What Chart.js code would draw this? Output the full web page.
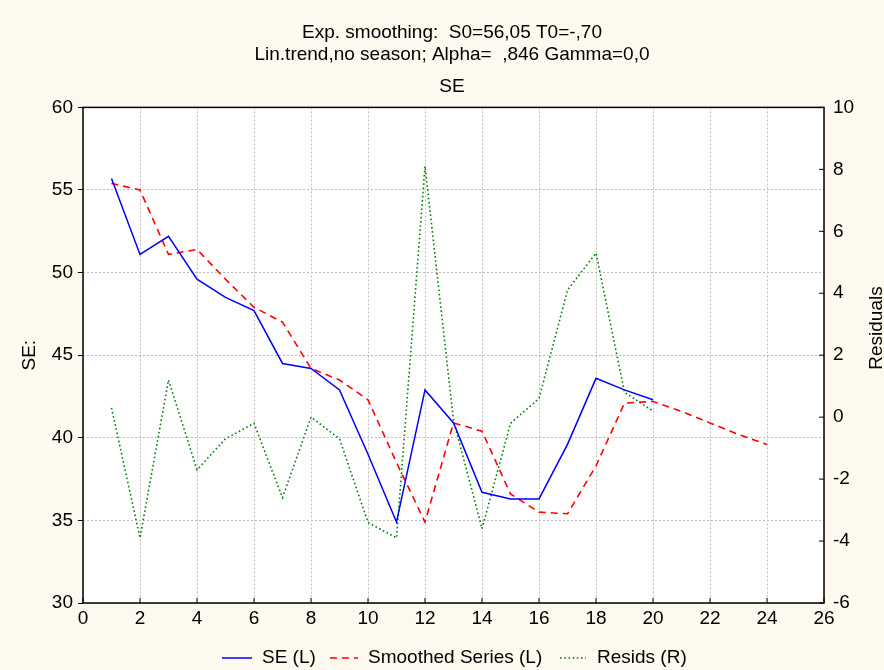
<!DOCTYPE html>
<html>
<head>
<meta charset="utf-8">
<script src="https://cdn.jsdelivr.net/npm/chart.js@4/dist/chart.umd.min.js"></script>
<style>
  html, body { margin: 0; padding: 0; background: #fdf9ef; }
  canvas { display: block; }
</style>
</head>
<body>
<canvas id="chart" width="884" height="670"></canvas>
<script>
const FONT = "'Liberation Sans', Arial, sans-serif";

const titleLines = [
  "Exp. smoothing:  S0=56,05 T0=-,70",
  "Lin.trend,no season; Alpha=  ,846 Gamma=0,0",
];
const subTitle = "SE";
const leftAxisTitle = "SE:";
const rightAxisTitle = "Residuals";

const steps = [1, 2, 3, 4, 5, 6, 7, 8, 9, 10, 11, 12, 13, 14, 15, 16, 17, 18, 19, 20, 21, 22, 23, 24];
const seValues = [55.7, 51.1, 52.2, 49.6, 48.5, 47.7, 44.5, 44.2, 42.9, 39.0, 34.9, 42.9, 40.9, 36.7, 36.3, 36.3, 39.6, 43.6, 42.9, 42.3];
const smoothedValues = [55.4, 55.0, 51.1, 51.4, 49.6, 47.9, 47.0, 44.2, 43.5, 42.3, 38.5, 34.9, 40.9, 40.4, 36.6, 35.5, 35.4, 38.3, 42.1, 42.2, 41.6, 40.9, 40.2, 39.6];
const residValues = [0.3, -3.9, 1.2, -1.7, -0.7, -0.2, -2.6, 0.0, -0.7, -3.4, -3.9, 8.1, -0.1, -3.6, -0.2, 0.6, 4.1, 5.3, 0.8, 0.2];

const legendLabels = ["SE (L)", "Smoothed Series (L)", "Resids (R)"];

function toPoints(values) {
  return values.map((v, i) => ({ x: steps[i], y: v }));
}

// фон, рамка, внутренние риски, правый заголовок и легенда
const decor = {
  id: "decor",
  beforeDraw(chart) {
    const { ctx, chartArea: a } = chart;
    ctx.save();
    ctx.fillStyle = "#fdf9ef";
    ctx.fillRect(0, 0, chart.width, chart.height);
    ctx.fillStyle = "#ffffff";
    ctx.fillRect(a.left, a.top, a.right - a.left, a.bottom - a.top);
    ctx.restore();
  },
  afterDraw(chart) {
    const { ctx, chartArea: a, scales } = chart;
    ctx.save();
    ctx.strokeStyle = "#000";
    ctx.lineWidth = 1.5;
    ctx.strokeRect(a.left, a.top, a.right - a.left, a.bottom - a.top);

    ctx.lineWidth = 1;
    ctx.beginPath();
    scales.x.ticks.forEach((t) => {
      const px = scales.x.getPixelForValue(t.value);
      ctx.moveTo(px, a.bottom);
      ctx.lineTo(px, a.bottom - 5);
    });
    scales.y1.ticks.forEach((t) => {
      const py = scales.y1.getPixelForValue(t.value);
      ctx.moveTo(a.right, py);
      ctx.lineTo(a.right - 5, py);
    });
    ctx.stroke();

    // Residuals: снизу вверх, как слева
    ctx.fillStyle = "#000";
    ctx.font = "19px " + FONT;
    ctx.textAlign = "center";
    ctx.textBaseline = "middle";
    ctx.translate(877, 328);
    ctx.rotate(-Math.PI / 2);
    ctx.fillText(rightAxisTitle, 0, 0);
    ctx.setTransform(1, 0, 0, 1, 0, 0);

    // Legend
    const y = 658;
    const samples = [
      { x0: 222, x1: 252, tx: 262 },
      { x0: 330, x1: 358, tx: 368 },
      { x0: 560, x1: 586, tx: 597 },
    ];
    chart.data.datasets.forEach((ds, i) => {
      const s = samples[i];
      ctx.strokeStyle = ds.borderColor;
      ctx.lineWidth = ds.borderWidth;
      ctx.setLineDash(ds.borderDash || []);
      ctx.beginPath();
      ctx.moveTo(s.x0, y);
      ctx.lineTo(s.x1, y);
      ctx.stroke();
      ctx.setLineDash([]);
      ctx.textAlign = "left";
      ctx.fillText(legendLabels[i], s.tx, y);
    });
    ctx.restore();
  },
};

const gridStyle = {
  color: "#bdbdbd",
  lineWidth: 1,
};

new Chart(document.getElementById("chart"), {
  type: "line",
  data: {
    datasets: [
      {
        label: legendLabels[0],
        data: toPoints(seValues),
        borderColor: "#0000ff",
        borderWidth: 1.5,
        yAxisID: "y",
      },
      {
        label: legendLabels[1],
        data: toPoints(smoothedValues),
        borderColor: "#ff0000",
        borderWidth: 1.6,
        borderDash: [7, 5],
        yAxisID: "y",
      },
      {
        label: legendLabels[2],
        data: toPoints(residValues),
        borderColor: "#008000",
        borderWidth: 1.6,
        borderDash: [1.6, 2.6],
        yAxisID: "y1",
      },
    ],
  },
  options: {
    responsive: false,
    devicePixelRatio: 1,
    animation: false,
    layout: { padding: { left: 20, right: 0, top: 0, bottom: 0 } },
    elements: {
      point: { radius: 0 },
      line: { tension: 0, fill: false },
    },
    plugins: {
      legend: { display: false },
      tooltip: { enabled: false },
      title: {
        display: true,
        text: titleLines,
        color: "#000",
        font: { family: FONT, size: 19, weight: "normal", lineHeight: 1.2 },
        padding: { top: 21, bottom: 0 },
      },
      subtitle: {
        display: true,
        text: subTitle,
        color: "#000",
        font: { family: FONT, size: 19, weight: "normal", lineHeight: 1.2 },
        padding: { top: 9, bottom: 9 },
      },
    },
    scales: {
      x: {
        type: "linear",
        min: 0,
        max: 26,
        border: { display: false, dash: [2, 2] },
        grid: { ...gridStyle, drawTicks: false },
        ticks: {
          stepSize: 2,
          color: "#000",
          padding: 4,
          maxRotation: 0,
          font: { family: FONT, size: 19 },
        },
        afterFit: (s) => { s.height = 67; },
      },
      y: {
        position: "left",
        min: 30,
        max: 60,
        border: { display: false, dash: [2, 2] },
        grid: {
          ...gridStyle,
          drawTicks: true,
          tickLength: 5,
          tickColor: "#000",
          tickBorderDash: [],
        },
        ticks: {
          stepSize: 5,
          color: "#000",
          padding: 5,
          font: { family: FONT, size: 19 },
        },
        title: {
          display: true,
          text: leftAxisTitle,
          color: "#000",
          font: { family: FONT, size: 19, lineHeight: 1 },
          padding: { top: 0.5, bottom: 0 },
        },
        afterFit: (s) => { s.width = 63; },
      },
      y1: {
        position: "right",
        min: -6,
        max: 10,
        border: { display: false },
        grid: { display: false, drawTicks: false },
        ticks: {
          stepSize: 2,
          color: "#000",
          padding: 9,
          font: { family: FONT, size: 19 },
        },
        afterFit: (s) => { s.width = 60; },
      },
    },
  },
  plugins: [decor],
});
</script>
</body>
</html>
